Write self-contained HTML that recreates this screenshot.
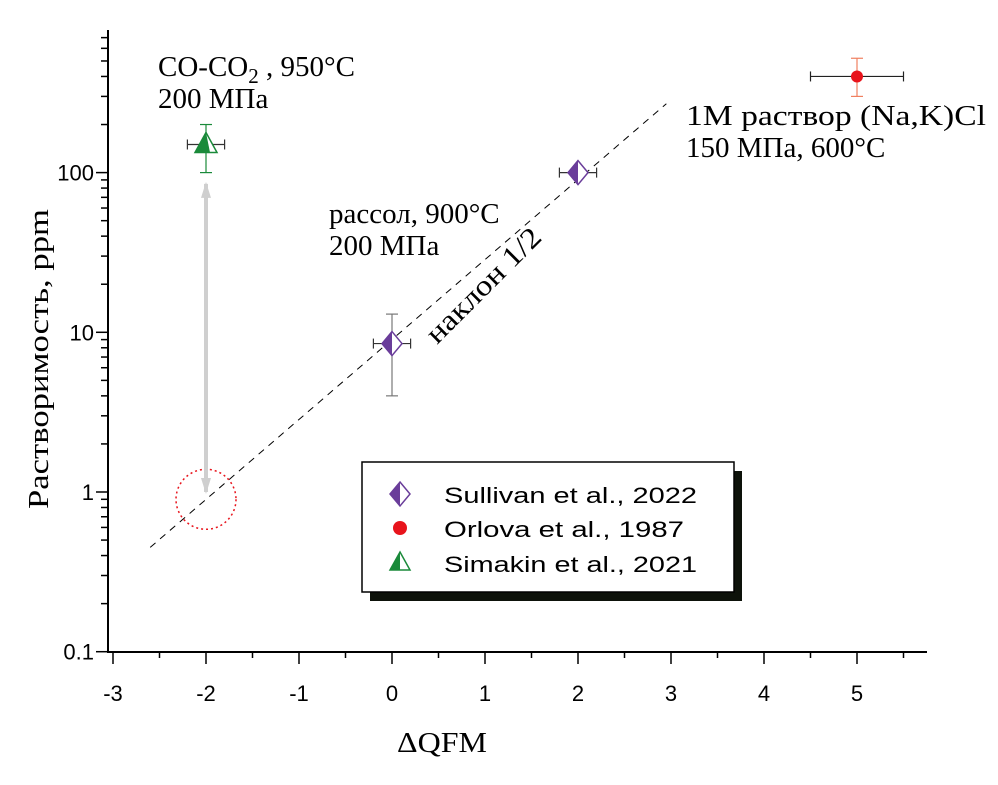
<!DOCTYPE html>
<html><head><meta charset="utf-8"><style>
body{margin:0;background:#fff;}
svg{display:block;}
.tk{font-family:"Liberation Sans",sans-serif;font-size:22px;fill:#000;}
.ann{font-family:"Liberation Serif",serif;font-size:29px;fill:#000;}
</style></head><body>
<svg id="chart" width="998" height="785" viewBox="0 0 998 785">
<g id="axes"></g>
<g id="marks"></g>
<text class="ann" x="397" y="752" font-size="30" textLength="90" lengthAdjust="spacingAndGlyphs">ΔQFM</text>
<text class="ann" transform="translate(48,359) rotate(-90)" text-anchor="middle" font-size="31" textLength="300" lengthAdjust="spacingAndGlyphs">Растворимость, ppm</text>
<text class="ann" x="158" y="76">CO-CO<tspan font-size="21" dy="7">2</tspan><tspan dy="-7"> , 950°C</tspan></text>
<text class="ann" x="158" y="108">200 МПа</text>
<text class="ann" x="329" y="223">рассол, 900°C</text>
<text class="ann" x="329" y="255">200 МПа</text>
<text class="ann" x="686" y="125" textLength="300" lengthAdjust="spacingAndGlyphs">1M раствор (Na,K)Cl</text>
<text class="ann" x="686" y="157">150 МПа, 600°C</text>
<text class="ann" transform="translate(437,345) rotate(-45)" font-size="28" textLength="150" lengthAdjust="spacingAndGlyphs">наклон 1/2</text>
<g>
<rect x="370" y="471" width="372" height="130" fill="#0d120a"/>
<rect x="362" y="462" width="372" height="130" fill="#fff" stroke="#000" stroke-width="1.5"/>
<g>
<polygon points="400,482 410,494 400,506 390,494" fill="#fff" stroke="#6a3d9a" stroke-width="1.5"/>
<polygon points="400,482 400,506 390,494" fill="#6a3d9a"/>
<text class="tk" x="444" y="503" font-size="25" textLength="253" lengthAdjust="spacingAndGlyphs">Sullivan et al., 2022</text></g>
<g>
<circle cx="400" cy="528" r="7" fill="#e8141c"/>
<text class="tk" x="444" y="537" font-size="25" textLength="240" lengthAdjust="spacingAndGlyphs">Orlova et al., 1987</text></g>
<g>
<polygon points="400,552 410,570 390,570" fill="#fff" stroke="#1a8a3a" stroke-width="1.5"/>
<polygon points="400,552 400,570 390,570" fill="#1a8a3a"/>
<text class="tk" x="444" y="572" font-size="25" textLength="253" lengthAdjust="spacingAndGlyphs">Simakin et al., 2021</text></g>
</g>
</svg>
<script>
const xTicks=[-3,-2,-1,0,1,2,3,4,5];
const yTicks=[0.1,1,10,100];
const yTickLabels=["0.1","1","10","100"];
const sullivanX=[0,2];
const sullivanY=[8.5,100];
const sullivanYLo=[4,95];
const sullivanYHi=[13,105];
const sullivanXErr=[0.2,0.2];
const orlovaX=[5];
const orlovaY=[400];
const orlovaYLo=[300];
const orlovaYHi=[520];
const orlovaXErr=[0.5];
const simakinX=[-2];
const simakinY=[150];
const simakinYLo=[100];
const simakinYHi=[200];
const simakinXErr=[0.2];
const slopeLineX=[-2.6,2.95];
const slopeLineY=[0.45,270];
const circleX=-2, circleY=0.9;

const NS="http://www.w3.org/2000/svg";
const X=v=>113+(v+3)*93;
const Y=v=>492-Math.log10(v)*159.7;
function mk(parent,tag,attrs){const e=document.createElementNS(NS,tag);for(const k in attrs)e.setAttribute(k,attrs[k]);parent.appendChild(e);return e;}
const axes=document.getElementById('axes'), marks=document.getElementById('marks');
let e;
e=mk(axes,'line',{x1:108,y1:30,x2:108,y2:653,stroke:'#000','stroke-width':2});


e=mk(axes,'line',{x1:107,y1:652,x2:927,y2:652,stroke:'#000','stroke-width':2});


for(let i=0;i<xTicks.length;i++){
  const x=X(xTicks[i]);
  e=mk(axes,'line',{x1:x,y1:652,x2:x,y2:664,stroke:'#000','stroke-width':1.5});
  
  
  const xm=X(xTicks[i]+0.5);
  if(xm<926){e=mk(axes,'line',{x1:xm,y1:652,x2:xm,y2:658,stroke:'#000','stroke-width':1.5});
  
  }
  e=mk(axes,'text',{x:x,y:701,'text-anchor':'middle',class:'tk'});
  e.textContent=xTicks[i];
  
  
}
for(let i=0;i<yTicks.length;i++){
  const y=Y(yTicks[i]);
  e=mk(axes,'line',{x1:96,y1:y,x2:108,y2:y,stroke:'#000','stroke-width':1.5});
  
  
  e=mk(axes,'text',{x:94,y:y+8,'text-anchor':'end',class:'tk'});
  e.textContent=yTickLabels[i];
  
  
  for(let m=2;m<=9;m++){const v=yTicks[i]*m;const yy=Y(v);if(yy<30)continue;
    e=mk(axes,'line',{x1:101,y1:yy,x2:108,y2:yy,stroke:'#000','stroke-width':1.5});
    
    }
}
e=mk(marks,'line',{x1:X(slopeLineX[0]),y1:Y(slopeLineY[0]),x2:X(slopeLineX[1]),y2:Y(slopeLineY[1]),stroke:'#000','stroke-width':1,'stroke-dasharray':'7,6'});


e=mk(marks,'circle',{cx:X(circleX),cy:Y(circleY),r:30,fill:'none',stroke:'#e8141c','stroke-width':1.5,'stroke-dasharray':'2,3'});


e=mk(marks,'line',{x1:X(-2),y1:Y(85),x2:X(-2),y2:Y(1),stroke:'#cfcfcf','stroke-width':4});


e=mk(marks,'polygon',{points:`${X(-2)-5},${Y(85)+14} ${X(-2)},${Y(85)-2} ${X(-2)+5},${Y(85)+14}`,fill:'#cfcfcf'});


e=mk(marks,'polygon',{points:`${X(-2)-5},${Y(1)-14} ${X(-2)},${Y(1)+2} ${X(-2)+5},${Y(1)-14}`,fill:'#cfcfcf'});


function errbars(xs,ys,lo,hi,xe,ycol,xcol){
  for(let i=0;i<xs.length;i++){
    const x=X(xs[i]),y=Y(ys[i]),x1=X(xs[i]-xe[i]),x2=X(xs[i]+xe[i]);
    const g=mk(marks,'g',{fill:'none','stroke-width':1.2});
    
    
    mk(g,'line',{x1:x,y1:Y(lo[i]),x2:x,y2:Y(hi[i]),stroke:ycol});
    mk(g,'line',{x1:x-6,y1:Y(lo[i]),x2:x+6,y2:Y(lo[i]),stroke:ycol});
    mk(g,'line',{x1:x-6,y1:Y(hi[i]),x2:x+6,y2:Y(hi[i]),stroke:ycol});
    mk(g,'line',{x1:x1,y1:y,x2:x2,y2:y,stroke:xcol});
    mk(g,'line',{x1:x1,y1:y-5,x2:x1,y2:y+5,stroke:xcol});
    mk(g,'line',{x1:x2,y1:y-5,x2:x2,y2:y+5,stroke:xcol});
  }
}
errbars(sullivanX,sullivanY,sullivanYLo,sullivanYHi,sullivanXErr,'#777','#333');
errbars(orlovaX,orlovaY,orlovaYLo,orlovaYHi,orlovaXErr,'#f08060','#222');
errbars(simakinX,simakinY,simakinYLo,simakinYHi,simakinXErr,'#1a8a3a','#333');
for(let i=0;i<sullivanX.length;i++){
  const x=X(sullivanX[i]),y=Y(sullivanY[i]);
  e=mk(marks,'polygon',{points:`${x},${y-12} ${x+10},${y} ${x},${y+12} ${x-10},${y}`,fill:'#fff',stroke:'#6a3d9a','stroke-width':1.5});
  
  
  mk(marks,'polygon',{points:`${x},${y-12} ${x},${y+12} ${x-10},${y}`,fill:'#6a3d9a'});
}
for(let i=0;i<orlovaX.length;i++){
  e=mk(marks,'circle',{cx:X(orlovaX[i]),cy:Y(orlovaY[i]),r:6,fill:'#e8141c'});
  
  
}
for(let i=0;i<simakinX.length;i++){
  const x=X(simakinX[i]),y=Y(simakinY[i]);
  e=mk(marks,'polygon',{points:`${x},${y-12} ${x+11},${y+8} ${x-11},${y+8}`,fill:'#fff',stroke:'#1a8a3a','stroke-width':1.5});
  
  
  mk(marks,'polygon',{points:`${x},${y-12} ${x+4},${y+8} ${x-11},${y+8}`,fill:'#1a8a3a'});
}
</script>
</body></html>
